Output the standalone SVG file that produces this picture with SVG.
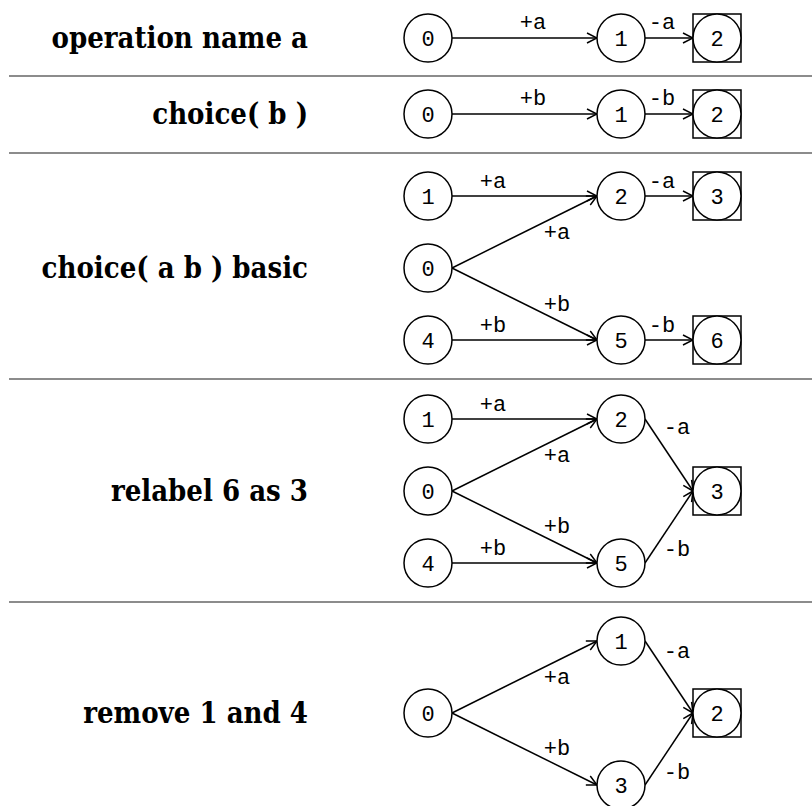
<svg xmlns="http://www.w3.org/2000/svg" width="812" height="806" viewBox="0 0 812 806">
<defs>
<style>
.sep{stroke:#8c8c8c;stroke-width:2}
.lbl{font-family:"DejaVu Serif Condensed","DejaVu Serif",serif;font-stretch:condensed;font-weight:bold;font-size:29px;fill:#000;text-anchor:end}
.n circle,.n rect{fill:#fff;stroke:#000;stroke-width:1.5}
.n text{font-family:"Liberation Mono",monospace;font-size:22px;text-anchor:middle;fill:#000}
.e line{stroke:#000;stroke-width:1.5;marker-end:url(#arr)}
.el{font-family:"Liberation Mono",monospace;font-size:22px;text-anchor:middle;fill:#000}
</style>
<marker id="arr" markerUnits="userSpaceOnUse" viewBox="0 0 12 12" markerWidth="12" markerHeight="12" refX="11" refY="6" orient="auto">
<path d="M1,1 L11,6 L1,11" fill="none" stroke="#000" stroke-width="1.5"/>
</marker>
</defs>
<rect width="812" height="806" fill="#fff"/>
<g id="separators">
<line class="sep" x1="9" y1="76" x2="812" y2="76"/>
<line class="sep" x1="9" y1="153" x2="812" y2="153"/>
<line class="sep" x1="9" y1="379" x2="812" y2="379"/>
<line class="sep" x1="9" y1="602" x2="812" y2="602"/>
</g>
<g id="labels">
<text class="lbl" x="308" y="48">operation name a</text>
<text class="lbl" x="308" y="124">choice( b )</text>
<text class="lbl" x="308" y="278">choice( a b ) basic</text>
<text class="lbl" x="308" y="501">relabel 6 as 3</text>
<text class="lbl" x="308" y="723">remove 1 and 4</text>
</g>
<g id="connectors" class="e">
<line x1="452" y1="38" x2="597" y2="38"/>
<line x1="645" y1="38" x2="693" y2="38"/>
<line x1="452" y1="114" x2="597" y2="114"/>
<line x1="645" y1="114" x2="693" y2="114"/>
<line x1="452" y1="196" x2="597" y2="196"/>
<line x1="452" y1="268" x2="597" y2="196"/>
<line x1="452" y1="268" x2="597" y2="340"/>
<line x1="452" y1="340" x2="597" y2="340"/>
<line x1="645" y1="196" x2="693" y2="196"/>
<line x1="645" y1="340" x2="693" y2="340"/>
<line x1="452" y1="419" x2="597" y2="419"/>
<line x1="452" y1="491" x2="597" y2="419"/>
<line x1="452" y1="491" x2="597" y2="563"/>
<line x1="452" y1="563" x2="597" y2="563"/>
<line x1="645" y1="419" x2="693" y2="491"/>
<line x1="645" y1="563" x2="693" y2="491"/>
<line x1="452" y1="713" x2="597" y2="641"/>
<line x1="452" y1="713" x2="597" y2="785"/>
<line x1="645" y1="641" x2="693" y2="713"/>
<line x1="645" y1="785" x2="693" y2="713"/>
</g>
<g id="edge-labels">
<text class="el" x="533" y="29">+a</text>
<text class="el" x="662" y="29">-a</text>
<text class="el" x="533" y="105">+b</text>
<text class="el" x="662" y="105">-b</text>
<text class="el" x="493" y="188">+a</text>
<text class="el" x="662" y="188">-a</text>
<text class="el" x="557" y="239">+a</text>
<text class="el" x="557" y="311">+b</text>
<text class="el" x="493" y="332">+b</text>
<text class="el" x="662" y="332">-b</text>
<text class="el" x="493" y="411">+a</text>
<text class="el" x="557" y="462">+a</text>
<text class="el" x="557" y="533">+b</text>
<text class="el" x="493" y="555">+b</text>
<text class="el" x="677" y="434">-a</text>
<text class="el" x="677" y="556">-b</text>
<text class="el" x="557" y="684">+a</text>
<text class="el" x="557" y="755">+b</text>
<text class="el" x="677" y="658">-a</text>
<text class="el" x="677" y="779">-b</text>
</g>
<g id="r1-n0" class="n"><circle cx="428" cy="38" r="24"/><text x="428" y="45.5">0</text></g>
<g id="r1-n1" class="n"><circle cx="621" cy="38" r="24"/><text x="621" y="45.5">1</text></g>
<g id="r1-n2" class="n"><rect x="693" y="14" width="48" height="48"/><circle cx="717" cy="38" r="24"/><text x="717" y="45.5">2</text></g>
<g id="r2-n0" class="n"><circle cx="428" cy="114" r="24"/><text x="428" y="121.5">0</text></g>
<g id="r2-n1" class="n"><circle cx="621" cy="114" r="24"/><text x="621" y="121.5">1</text></g>
<g id="r2-n2" class="n"><rect x="693" y="90" width="48" height="48"/><circle cx="717" cy="114" r="24"/><text x="717" y="121.5">2</text></g>
<g id="r3-n1" class="n"><circle cx="428" cy="196" r="24"/><text x="428" y="203.5">1</text></g>
<g id="r3-n0" class="n"><circle cx="428" cy="268" r="24"/><text x="428" y="275.5">0</text></g>
<g id="r3-n4" class="n"><circle cx="428" cy="340" r="24"/><text x="428" y="347.5">4</text></g>
<g id="r3-n2" class="n"><circle cx="621" cy="196" r="24"/><text x="621" y="203.5">2</text></g>
<g id="r3-n5" class="n"><circle cx="621" cy="340" r="24"/><text x="621" y="347.5">5</text></g>
<g id="r3-n3" class="n"><rect x="693" y="172" width="48" height="48"/><circle cx="717" cy="196" r="24"/><text x="717" y="203.5">3</text></g>
<g id="r3-n6" class="n"><rect x="693" y="316" width="48" height="48"/><circle cx="717" cy="340" r="24"/><text x="717" y="347.5">6</text></g>
<g id="r4-n1" class="n"><circle cx="428" cy="419" r="24"/><text x="428" y="426.5">1</text></g>
<g id="r4-n0" class="n"><circle cx="428" cy="491" r="24"/><text x="428" y="498.5">0</text></g>
<g id="r4-n4" class="n"><circle cx="428" cy="563" r="24"/><text x="428" y="570.5">4</text></g>
<g id="r4-n2" class="n"><circle cx="621" cy="419" r="24"/><text x="621" y="426.5">2</text></g>
<g id="r4-n5" class="n"><circle cx="621" cy="563" r="24"/><text x="621" y="570.5">5</text></g>
<g id="r4-n3" class="n"><rect x="693" y="467" width="48" height="48"/><circle cx="717" cy="491" r="24"/><text x="717" y="498.5">3</text></g>
<g id="r5-n0" class="n"><circle cx="428" cy="713" r="24"/><text x="428" y="720.5">0</text></g>
<g id="r5-n1" class="n"><circle cx="621" cy="641" r="24"/><text x="621" y="648.5">1</text></g>
<g id="r5-n3" class="n"><circle cx="621" cy="785" r="24"/><text x="621" y="792.5">3</text></g>
<g id="r5-n2" class="n"><rect x="693" y="689" width="48" height="48"/><circle cx="717" cy="713" r="24"/><text x="717" y="720.5">2</text></g>
</svg>
